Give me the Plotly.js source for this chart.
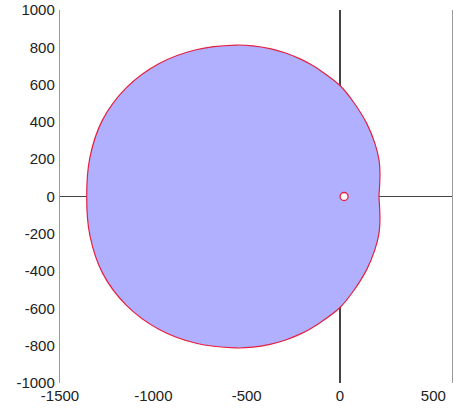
<!DOCTYPE html>
<html>
<head>
<meta charset="utf-8">
<script src="https://cdn.plot.ly/plotly-3.0.1.min.js"></script>
<style>
  html, body { margin: 0; padding: 0; background: #fff; }
  #plot { width: 453px; height: 410px; }
</style>
</head>
<body>
<div id="plot"></div>
<script>
// Closed Nyquist-style contour: real part and imaginary part, traced counter-clockwise
const curveRe = [209, 209.5, 212, 214, 209, 187, 143, 71, 0, -107, -160, -214, -295, -375, -467, -560, -771, -971, -1144, -1272, -1340, -1357,
                 -1340, -1272, -1144, -971, -771, -560, -467, -375, -295, -214, -160, -107, 0, 71, 143, 187, 209, 214, 212, 209.5, 209];
const curveIm = [0, 14, 55, 124, 196, 285, 392, 508, 595, 677, 710, 738, 771, 793, 808, 812, 787, 712, 584, 411, 209, 0,
                 -209, -411, -584, -712, -787, -812, -808, -793, -771, -738, -710, -677, -595, -508, -392, -285, -196, -124, -55, -14, 0];

// Small loop near the origin
const loopRe = [22];
const loopIm = [0];

// Axis tick values and their labels (plain hyphen minus)
const xTicks = [-1500, -1000, -500, 0, 500];
const xTickText = ['-1500', '-1000', '-500', '0', '500'];
const yTicks = [-1000, -800, -600, -400, -200, 0, 200, 400, 600, 800, 1000];
const yTickText = ['-1000', '-800', '-600', '-400', '-200', '0', '200', '400', '600', '800', '1000'];

const traces = [
  {
    x: curveRe, y: curveIm,
    type: 'scatter', mode: 'lines',
    line: { color: 'rgb(228,32,64)', width: 1.2, shape: 'spline', smoothing: 1 },
    fill: 'toself', fillcolor: 'rgb(176,176,255)',
    hoverinfo: 'skip'
  },
  {
    x: loopRe, y: loopIm,
    type: 'scatter', mode: 'markers',
    marker: { symbol: 'circle', size: 8, color: '#ffffff', line: { color: 'rgb(228,32,64)', width: 1.3 } },
    hoverinfo: 'skip'
  }
];

const font = { family: 'Liberation Sans, Arial, sans-serif', size: 15, color: '#222' };

const layout = {
  width: 453, height: 410,
  margin: { l: 60, r: 1, t: 10, b: 27, pad: 0 },
  paper_bgcolor: '#fff', plot_bgcolor: '#fff',
  showlegend: false,
  font: font,
  xaxis: {
    range: [-1500, 600], tickmode: 'array', tickvals: xTicks, ticktext: xTickText,
    showgrid: false, showline: false, ticks: '', ticklabelstandoff: 2,
    zeroline: true, zerolinecolor: '#444', zerolinewidth: 1.3,
    tickfont: font
  },
  yaxis: {
    range: [-1000, 1000], tickmode: 'array', tickvals: yTicks, ticktext: yTickText,
    showgrid: false, showline: true, mirror: true, linecolor: '#999', linewidth: 1.2,
    ticks: '', ticklabelstandoff: 1,
    zeroline: true, zerolinecolor: '#444', zerolinewidth: 1.3,
    tickfont: font
  }
};

Plotly.newPlot('plot', traces, layout, { displayModeBar: false, staticPlot: true });
</script>
</body>
</html>
